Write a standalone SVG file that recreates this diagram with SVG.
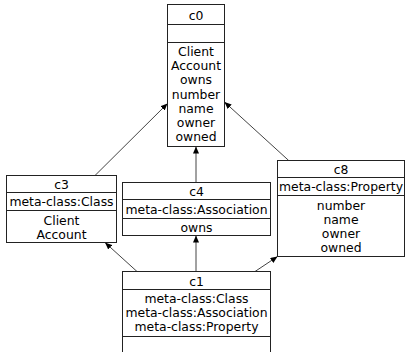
<svg xmlns="http://www.w3.org/2000/svg" width="405" height="352" viewBox="0 0 405 352">
<style>
.box{fill:#fff;stroke:#222;stroke-width:1}
.sep{stroke:#222;stroke-width:1}
text{font-family:"DejaVu Sans",sans-serif;font-size:12.4px;fill:#000;text-anchor:middle}
.edge{stroke:#444;stroke-width:1;fill:none;marker-end:url(#arr)}
</style>
<defs>
<marker id="arr" markerUnits="userSpaceOnUse" markerWidth="8" markerHeight="6" refX="7" refY="3" orient="auto">
<path d="M0,0 L7,3 L0,6 Z" fill="#000"/>
</marker>
</defs>
<rect width="405" height="352" fill="#fff"/>
<g id="connectors">
<line class="edge" x1="95" y1="175.5" x2="167.5" y2="103.5"/>
<line class="edge" x1="196" y1="182.5" x2="196" y2="146.5"/>
<line class="edge" x1="288.7" y1="160.5" x2="224.5" y2="102"/>
<line class="edge" x1="137" y1="271.5" x2="105" y2="242.5"/>
<line class="edge" x1="196" y1="271.5" x2="196" y2="235.5"/>
<line class="edge" x1="255" y1="271.5" x2="277.5" y2="256.5"/>
</g>
<g id="c0">
<rect class="box" x="167.5" y="4.5" width="57" height="142"/>
<line class="sep" x1="167.5" y1="24.5" x2="224.5" y2="24.5"/>
<line class="sep" x1="167.5" y1="42.5" x2="224.5" y2="42.5"/>
<text x="196" y="20">c0</text>
<text x="196" y="56">Client</text>
<text x="196" y="70.2">Account</text>
<text x="196" y="84.4">owns</text>
<text x="196" y="98.6">number</text>
<text x="196" y="112.8">name</text>
<text x="196" y="127">owner</text>
<text x="196" y="141.2">owned</text>
</g>
<g id="c3">
<rect class="box" x="6.5" y="175.5" width="110" height="67"/>
<line class="sep" x1="6.5" y1="192.5" x2="116.5" y2="192.5"/>
<line class="sep" x1="6.5" y1="210.5" x2="116.5" y2="210.5"/>
<text x="61.5" y="189">c3</text>
<text x="61.5" y="206">meta-class:Class</text>
<text x="61.5" y="225">Client</text>
<text x="61.5" y="239">Account</text>
</g>
<g id="c4">
<rect class="box" x="122.5" y="182.5" width="148" height="53"/>
<line class="sep" x1="122.5" y1="199.5" x2="270.5" y2="199.5"/>
<line class="sep" x1="122.5" y1="218.5" x2="270.5" y2="218.5"/>
<text x="196.5" y="196">c4</text>
<text x="196.5" y="214">meta-class:Association</text>
<text x="196.5" y="232">owns</text>
</g>
<g id="c8">
<rect class="box" x="277.5" y="160.5" width="127" height="96"/>
<line class="sep" x1="277.5" y1="177.5" x2="404.5" y2="177.5"/>
<line class="sep" x1="277.5" y1="195.5" x2="404.5" y2="195.5"/>
<text x="341" y="174">c8</text>
<text x="341" y="191">meta-class:Property</text>
<text x="341" y="210">number</text>
<text x="341" y="224">name</text>
<text x="341" y="238">owner</text>
<text x="341" y="252">owned</text>
</g>
<g id="c1">
<rect class="box" x="122.5" y="271.5" width="148" height="90"/>
<line class="sep" x1="122.5" y1="289.5" x2="270.5" y2="289.5"/>
<line class="sep" x1="122.5" y1="336.5" x2="270.5" y2="336.5"/>
<text x="196.5" y="286">c1</text>
<text x="196.5" y="303">meta-class:Class</text>
<text x="196.5" y="317">meta-class:Association</text>
<text x="196.5" y="331">meta-class:Property</text>
</g>
</svg>
